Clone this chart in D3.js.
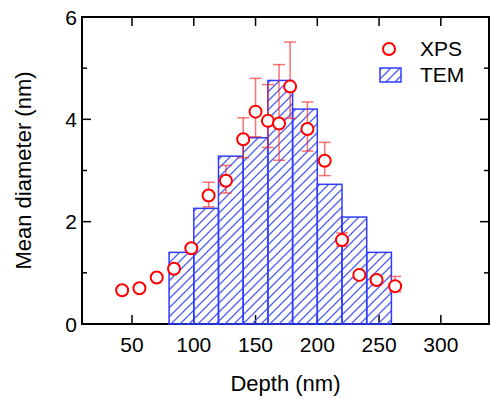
<!DOCTYPE html>
<html>
<head>
<meta charset="utf-8">
<script src="https://cdn.jsdelivr.net/npm/d3@7"></script>
<style>
  body { margin: 0; background: #fff; }
  text { font-family: "Liberation Sans", Arial, sans-serif; }
</style>
</head>
<body>
<script>
// TEM bins (nm) and mean diameters
var temStart = [80, 100, 120, 140, 160, 180, 200, 220, 240];
var temEnd   = [100, 120, 140, 160, 180, 200, 220, 240, 260];
var temMean  = [1.40, 2.26, 3.28, 3.64, 4.76, 4.20, 2.73, 2.09, 1.40];

// XPS points
var xpsDepth = [42, 56, 70, 84, 98, 112, 126, 140, 150, 160, 169, 178, 192, 206, 220, 234, 248, 263];
var xpsMean  = [0.66, 0.70, 0.91, 1.08, 1.48, 2.51, 2.80, 3.61, 4.15, 3.97, 3.92, 4.64, 3.81, 3.19, 1.64, 0.96, 0.86, 0.74];
var xpsHigh  = [null, null, null, null, null, 2.77, 3.10, 4.03, 4.80, 4.68, 5.07, 5.51, 4.34, 3.55, 1.78, null, null, 0.93];
var xpsLow   = [null, null, null, null, null, 2.29, 2.56, 3.25, 3.66, 3.45, 3.20, 4.02, 3.38, 2.90, 1.52, null, null, 0.63];

var xTicks = [50, 100, 150, 200, 250, 300];
var yTicks = [0, 2, 4, 6];
var yMinor = [1, 3, 5];

var svg = d3.select("body")
    .append("svg")
    .attr("width", 490)
    .attr("height", 399)
    .style('display', 'block');

var margin = {top: 17, right: 1, bottom: 75, left: 82};
var width = 490 - margin.left - margin.right;
var height = 399 - margin.top - margin.bottom;

var x = d3.scaleLinear().domain([9.5, 339]).range([0, width]);
var y = d3.scaleLinear().domain([0, 6]).range([height, 0]);

var defs = svg.append('defs');
var pat = defs.append('pattern')
    .attr('id', 'hatch')
    .attr('patternUnits', 'userSpaceOnUse')
    .attr('width', 9)
    .attr('height', 9);
pat.append('path')
    .attr('d', 'M-1,1 l2,-2 M0,9 l9,-9 M8,10 l2,-2')
    .attr('stroke', '#4f60f0')
    .attr('stroke-width', 1.3);

var g = svg.append('g').attr('transform', 'translate(' + margin.left + ',' + margin.top + ')');

// frame
g.append('rect')
    .attr('x', 0).attr('y', 0)
    .attr('width', width).attr('height', height)
    .attr('fill', 'none')
    .attr('stroke', '#000')
    .attr('stroke-width', 2);

// ticks
var tickColor = '#000';
xTicks.forEach(function (t) {
    g.append('line').attr('x1', x(t)).attr('x2', x(t)).attr('y1', height).attr('y2', height - 9)
        .attr('stroke', tickColor).attr('stroke-width', 1.5);
    g.append('line').attr('x1', x(t)).attr('x2', x(t)).attr('y1', 0).attr('y2', 9)
        .attr('stroke', tickColor).attr('stroke-width', 1.5);
    g.append('text').attr('x', x(t)).attr('y', height + 28)
        .attr('text-anchor', 'middle').style('font-size', '21px').text(t);
});
yTicks.forEach(function (t) {
    g.append('line').attr('x1', 0).attr('x2', 9).attr('y1', y(t)).attr('y2', y(t))
        .attr('stroke', tickColor).attr('stroke-width', 1.5);
    g.append('line').attr('x1', width).attr('x2', width - 9).attr('y1', y(t)).attr('y2', y(t))
        .attr('stroke', tickColor).attr('stroke-width', 1.5);
    g.append('text').attr('x', -5).attr('y', y(t)).attr('dy', '0.36em')
        .attr('text-anchor', 'end').style('font-size', '21px').text(t);
});
yMinor.forEach(function (t) {
    g.append('line').attr('x1', 0).attr('x2', 5).attr('y1', y(t)).attr('y2', y(t))
        .attr('stroke', tickColor).attr('stroke-width', 1.5);
    g.append('line').attr('x1', width).attr('x2', width - 5).attr('y1', y(t)).attr('y2', y(t))
        .attr('stroke', tickColor).attr('stroke-width', 1.5);
});

// TEM bars
var bars = temMean.map(function (d, i) { return {x0: temStart[i], x1: temEnd[i], v: d}; });
g.selectAll('rect.tem')
    .data(bars)
    .enter()
    .append('rect')
    .attr('class', 'tem')
    .attr('x', function (d) { return x(d.x0); })
    .attr('y', function (d) { return y(d.v); })
    .attr('width', function (d) { return x(d.x1) - x(d.x0); })
    .attr('height', function (d) { return y(0) - y(d.v); })
    .attr('fill', 'url(#hatch)')
    .attr('stroke', '#2f3cff')
    .attr('stroke-width', 1.5);

// XPS points
var pts = xpsMean.map(function (d, i) {
    return {d: xpsDepth[i], v: d, hi: xpsHigh[i], lo: xpsLow[i]};
});
var errCol = 'rgba(240,40,40,0.65)';
var err = g.selectAll('g.err')
    .data(pts.filter(function (p) { return p.hi != null; }))
    .enter()
    .append('g');
err.append('line')
    .attr('x1', function (p) { return x(p.d); }).attr('x2', function (p) { return x(p.d); })
    .attr('y1', function (p) { return y(p.hi); }).attr('y2', function (p) { return y(p.lo); })
    .attr('stroke', errCol).attr('stroke-width', 1.5);
err.append('line')
    .attr('x1', function (p) { return x(p.d) - 6; }).attr('x2', function (p) { return x(p.d) + 6; })
    .attr('y1', function (p) { return y(p.hi); }).attr('y2', function (p) { return y(p.hi); })
    .attr('stroke', errCol).attr('stroke-width', 1.5);
err.append('line')
    .attr('x1', function (p) { return x(p.d) - 6; }).attr('x2', function (p) { return x(p.d) + 6; })
    .attr('y1', function (p) { return y(p.lo); }).attr('y2', function (p) { return y(p.lo); })
    .attr('stroke', errCol).attr('stroke-width', 1.5);

g.selectAll('circle.xps')
    .data(pts)
    .enter()
    .append('circle')
    .attr('cx', function (p) { return x(p.d); })
    .attr('cy', function (p) { return y(p.v); })
    .attr('r', 6)
    .attr('fill', '#fff')
    .attr('stroke', '#f00')
    .attr('stroke-width', 2);

// legend
g.append('circle').attr('cx', 307).attr('cy', 32).attr('r', 6)
    .attr('fill', '#fff').attr('stroke', '#f00').attr('stroke-width', 2);
g.append('text').attr('x', 338).attr('y', 39).style('font-size', '21px').text('XPS');
g.append('rect').attr('x', 298).attr('y', 51).attr('width', 21).attr('height', 14)
    .attr('fill', 'url(#hatch)').attr('stroke', '#2f3cff').attr('stroke-width', 1.5);
g.append('text').attr('x', 338).attr('y', 65).style('font-size', '21px').text('TEM');

// axis titles
svg.append('text')
    .attr('x', margin.left + width / 2)
    .attr('y', 391)
    .attr('text-anchor', 'middle')
    .style('font-size', '22px')
    .text('Depth (nm)');
svg.append('text')
    .attr('transform', 'translate(31,' + (margin.top + height / 2) + ') rotate(-90)')
    .attr('text-anchor', 'middle')
    .style('font-size', '22px')
    .text('Mean diameter (nm)');
</script>
</body>
</html>
